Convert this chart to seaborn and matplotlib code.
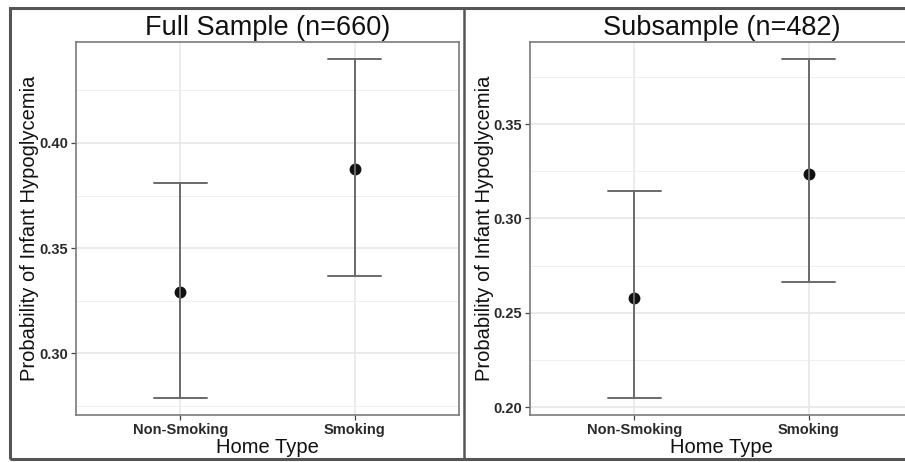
import numpy as np
import pandas as pd
import matplotlib.pyplot as plt
import seaborn as sns
from matplotlib.patches import Rectangle
from matplotlib.lines import Line2D
from matplotlib.ticker import MultipleLocator

# ---- data ----
home_types = ['Non-Smoking', 'Smoking']

full_est = [0.329, 0.3875]
full_lo = [0.2786, 0.3367]
full_hi = [0.381, 0.440]

sub_est = [0.258, 0.3233]
sub_lo = [0.2048, 0.2664]
sub_hi = [0.3143, 0.3845]

panel_titles = ['Full Sample (n=660)', 'Subsample (n=482)']

sns.set_style('white')
plt.rcParams['font.family'] = ['Liberation Sans', 'DejaVu Sans']


def to_long(est, lo, hi):
    # three rows per group: lower, estimate, upper -> median = estimate, min/max = CI
    rows = []
    for cat, e, l, h in zip(home_types, est, lo, hi):
        for v in (l, e, h):
            rows.append({'Home Type': cat, 'prob': v})
    return pd.DataFrame(rows)


W, H = 905, 462
fig = plt.figure(figsize=(W / 100, H / 100), dpi=100)

axes_px = [(76, 42, 383, 373), (530, 42, 383, 373)]
panels = [(full_est, full_lo, full_hi), (sub_est, sub_lo, sub_hi)]

for (x0, y0, w, h), (est, lo, hi), title in zip(axes_px, panels, panel_titles):
    ax = fig.add_axes([x0 / W, 1 - (y0 + h) / H, w / W, h / H])
    df = to_long(est, lo, hi)
    sns.pointplot(data=df, x='Home Type', y='prob', ax=ax,
                  estimator=np.median, errorbar=lambda v: (v.min(), v.max()),
                  capsize=0.3, linestyle='none', color='#111111',
                  markersize=6.5, marker='o',
                  err_kws={'color': '#6a6a6a', 'linewidth': 1.4})

    rng = max(hi) - min(lo)
    ax.set_ylim(min(lo) - 0.05 * rng, max(hi) + 0.05 * rng)
    ax.set_xlim(-0.6, 1.6)
    ax.yaxis.set_major_locator(MultipleLocator(0.05))
    ax.yaxis.set_minor_locator(MultipleLocator(0.025))
    ax.yaxis.set_major_formatter(plt.FormatStrFormatter('%.2f'))

    ax.set_axisbelow(True)
    ax.grid(True, which='major', color='#e6e6e6', linewidth=1.1)
    ax.yaxis.grid(True, which='minor', color='#efefef', linewidth=0.7)
    ax.xaxis.grid(True, which='major', color='#e6e6e6', linewidth=1.1)

    for s in ax.spines.values():
        s.set_visible(True)
        s.set_color('#7a7a7a')
        s.set_linewidth(1.2)

    ax.tick_params(axis='both', which='major', length=3.5, width=0.9,
                   color='#444444', labelsize=10.5, labelcolor='#2a2a2a', pad=2,
                   bottom=True, left=True)
    ax.tick_params(axis='y', which='minor', length=0)
    for lab in ax.get_xticklabels() + ax.get_yticklabels():
        lab.set_fontweight('bold')

    ax.set_xlabel('Home Type', fontsize=14.5, color='#111111', labelpad=1)
    ax.set_ylabel('Probability of Infant Hypoglycemia', fontsize=14.5,
                  color='#111111', labelpad=0)
    ax.set_title(title, fontsize=19.5, color='#111111', pad=5)

# outer frame and panel divider
fig.add_artist(Rectangle((10 / W, 1 - 459 / H), (W + 10) / W, 451 / H,
                         transform=fig.transFigure, fill=False,
                         edgecolor='#555555', linewidth=2.2))
fig.add_artist(Line2D([464 / W, 464 / W], [1 - 459 / H, 1 - 8 / H],
                      transform=fig.transFigure, color='#555555', linewidth=1.8))

fig.savefig('out.png', dpi=100)
